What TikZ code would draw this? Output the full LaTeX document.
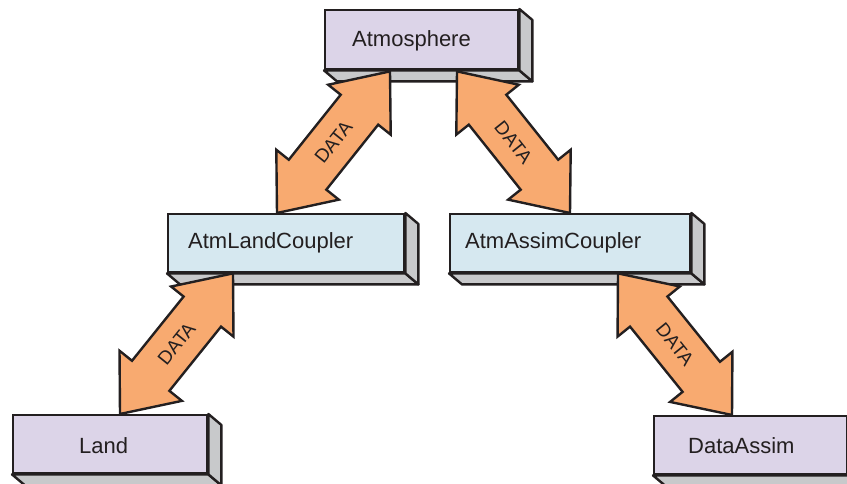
\documentclass[tikz,border=0pt]{standalone}
\usepackage{fontspec}
\setmainfont{Liberation Sans}
\usetikzlibrary{calc}
\definecolor{ink}{HTML}{231F20}
\definecolor{orangefill}{HTML}{F8AA70}
\definecolor{lavender}{HTML}{DCD4E8}
\definecolor{iceblue}{HTML}{D6E8F0}
\definecolor{sidegray}{HTML}{C8C9CB}
\tikzset{
  frontbox/.style={draw=ink, line width=2.4pt, rectangle, inner sep=0pt, anchor=north west},
  comp/.style={frontbox, fill=lavender},
  coupler/.style={frontbox, fill=iceblue},
  depthface/.style={draw=ink, fill=sidegray, line width=2.4pt, line join=round},
  boxtext/.style={anchor=base west, inner sep=0pt, text=ink, font=\fontsize{22}{26}\selectfont},
  dataarr/.style={draw=ink, fill=orangefill, line width=2.4pt, line join=miter},
  datalabel/.style={text=ink, font=\fontsize{19}{22}\selectfont, inner sep=0pt}
}
\newcommand\dataarrow[2]{%
  \draw[dataarr] (#1) -- ($(#1)!63.25pt!39.23:(#2)$) -- ($(#1)!54.56pt!26.09:(#2)$)
    -- ($(#2)!54.56pt!-26.09:(#1)$) -- ($(#2)!63.25pt!-39.23:(#1)$) -- (#2)
    -- ($(#2)!63.25pt!39.23:(#1)$) -- ($(#2)!54.56pt!26.09:(#1)$)
    -- ($(#1)!54.56pt!-26.09:(#2)$) -- ($(#1)!63.25pt!-39.23:(#2)$) -- cycle;
  \path (#1) -- node[sloped, datalabel] {DATA} (#2);
}
\begin{document}
\begin{tikzpicture}[x=1pt,y=-1pt]
\useasboundingbox (0,0) rectangle (847,484);
% front faces (named)
\node[comp, minimum width=193pt, minimum height=59pt] (atm) at (324,9) {};
\node[coupler, minimum width=236pt, minimum height=58pt] (alc) at (167,213) {};
\node[coupler, minimum width=240pt, minimum height=58pt] (aac) at (449,213) {};
\node[comp, minimum width=194pt, minimum height=58pt] (land) at (12,414) {};
\node[comp, minimum width=193pt, minimum height=58pt] (da) at (653,415) {};
% depth faces
\foreach \b in {atm,alc,aac,land,da}{
  \draw[depthface] (\b.south west) -- (\b.south east) -- ($(\b.south east)+(13,11)$) -- ($(\b.south west)+(13,11)$) -- cycle;
  \draw[depthface] (\b.north east) -- ($(\b.north east)+(13,11)$) -- ($(\b.south east)+(13,11)$) -- (\b.south east) -- cycle;
}
% redraw front faces over depth outlines
\node[comp, minimum width=193pt, minimum height=59pt] at (324,9) {};
\node[coupler, minimum width=236pt, minimum height=58pt] at (167,213) {};
\node[coupler, minimum width=240pt, minimum height=58pt] at (449,213) {};
\node[comp, minimum width=194pt, minimum height=58pt] at (12,414) {};
\node[comp, minimum width=193pt, minimum height=58pt] at (653,415) {};
% texts
\node[boxtext] (atmT) at (352,47) {Atmosphere};
\node[boxtext] (alcT) at (188,249) {AtmLandCoupler};
\node[boxtext] (aacT) at (465,249) {AtmAssimCoupler};
\node[boxtext] (landT) at (79,453) {Land};
\node[boxtext] (daT) at (688,453) {DataAssim};
% arrow end points
\coordinate (a1) at ($(atm.south west)+(66,1)$);
\coordinate (b1) at ($(alc.north west)+(110,0)$);
\coordinate (a2) at ($(atm.south west)+(133,1)$);
\coordinate (b2) at ($(aac.north west)+(121,0)$);
\coordinate (a3) at ($(alc.south west)+(66,0)$);
\coordinate (b3) at ($(land.north west)+(108,0)$);
\coordinate (a4) at ($(aac.south west)+(169,0)$);
\coordinate (b4) at ($(da.north west)+(79,0)$);
\dataarrow{a1}{b1}
\dataarrow{a2}{b2}
\dataarrow{a3}{b3}
\dataarrow{a4}{b4}
\end{tikzpicture}
\end{document}
